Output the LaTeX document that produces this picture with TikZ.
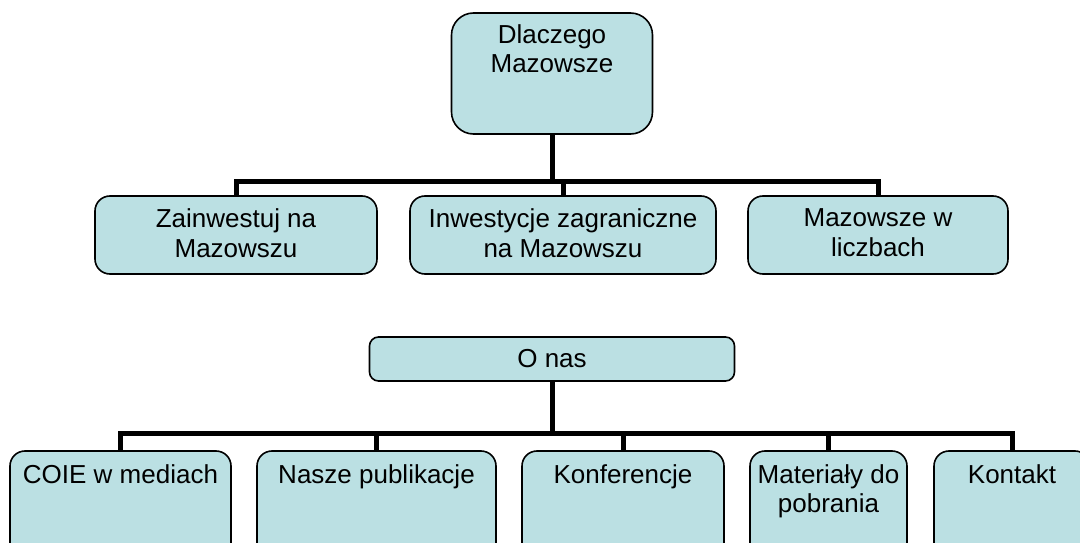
\documentclass[tikz,border=0pt]{standalone}
\usepackage{fontspec}
\setmainfont{Liberation Sans}
\definecolor{boxfill}{RGB}{187,224,227}
\begin{document}
\begin{tikzpicture}[x=1pt,y=-1pt,
  box/.style={draw=black, line width=1.6pt, fill=boxfill, rounded corners=#1,
    inner sep=0pt, align=center, font=\fontsize{26}{30}\selectfont},
  box/.default=15pt,
  lbl/.style={anchor=north, inner sep=0pt, align=center, yshift=-14pt,
    font=\fontsize{26}{29}\selectfont},
  mlbl/.style={anchor=center, inner sep=0pt, align=center, yshift=2pt,
    font=\fontsize{26}{30}\selectfont},
  conn/.style={line width=5pt}]
\useasboundingbox (0,0) rectangle (1080,543);
\clip (0,0) rectangle (1080,543);
% top tree
\node[box=22pt, minimum width=201pt, minimum height=121pt,
  label={[lbl, yshift=2pt]north:Dlaczego\\Mazowsze}] (top) at (552,73.5) {};
\node[box, minimum width=282pt, minimum height=78pt,
  label={[mlbl]center:Zainwestuj na\\Mazowszu}] (m1) at (236,235) {};
\node[box, minimum width=306pt, minimum height=78pt,
  label={[mlbl]center:Inwestycje zagraniczne\\na Mazowszu}] (m2) at (563,235) {};
\node[box, minimum width=260pt, minimum height=78pt,
  label={[mlbl]center:Mazowsze w\\liczbach}] (m3) at (878,235) {};
\coordinate (h1) at (552,181);
\draw[conn] (top.south) -- (h1);
\draw[conn] (m1.north) |- (h1);
\draw[conn] (m3.north) |- (h1);
\draw[conn] (m2.north) -- (m2.north |- h1);
% bottom tree
\node[box=9pt, minimum width=365pt, minimum height=44pt] (onas) at (552,359) {O nas};
\node[box, minimum width=221pt, minimum height=110pt, label={[lbl]north:COIE w mediach}] (b1) at (120.5,506) {};
\node[box, minimum width=239pt, minimum height=110pt, label={[lbl]north:Nasze publikacje}] (b2) at (376.5,506) {};
\node[box, minimum width=202pt, minimum height=110pt, label={[lbl]north:Konferencje}] (b3) at (623,506) {};
\node[box, minimum width=157pt, minimum height=110pt, label={[lbl]north:Materiały do\\pobrania}] (b4) at (828.5,506) {};
\node[box, minimum width=156pt, minimum height=110pt, label={[lbl]north:Kontakt}] (b5) at (1012,506) {};
\coordinate (h2) at (552,433);
\draw[conn] (onas.south) -- (h2);
\draw[conn] (b1.north) |- (h2);
\draw[conn] (b5.north) |- (h2);
\draw[conn] (b2.north) -- (b2.north |- h2);
\draw[conn] (b3.north) -- (b3.north |- h2);
\draw[conn] (b4.north) -- (b4.north |- h2);
\end{tikzpicture}
\end{document}
